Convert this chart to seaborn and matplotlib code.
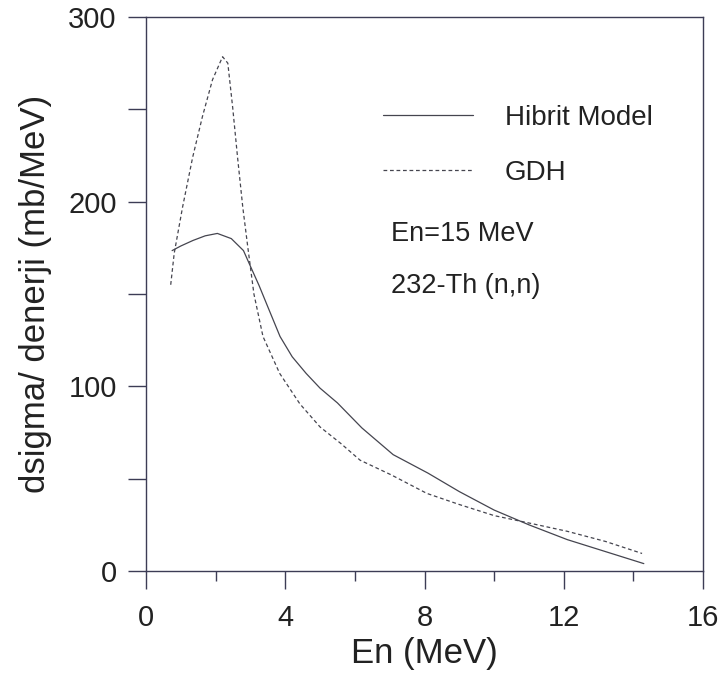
import matplotlib
matplotlib.use("Agg")
import matplotlib.pyplot as plt
import seaborn as sns
import pandas as pd
from matplotlib.ticker import MultipleLocator

# Data
hibrit_E = [0.75, 1.0, 1.35, 1.7, 2.05, 2.45, 2.8, 3.0, 3.25, 3.5, 3.85, 4.2, 4.6,
            5.0, 5.5, 6.2, 7.1, 8.1, 9.0, 10.0, 11.0, 12.1, 13.2, 14.3]
hibrit_y = [173.5, 176, 179, 181.5, 182.8, 180, 173.5, 165, 154.5, 143, 127, 116, 107,
            99, 91, 77.5, 63, 53, 43, 33, 25, 17, 10.5, 4]
gdh_E = [0.71, 0.81, 1.05, 1.34, 1.62, 1.91, 2.2, 2.35, 2.49, 2.63, 2.78, 2.92, 3.1,
         3.36, 3.84, 4.42, 5.0, 5.6, 6.15, 7.05, 8.07, 9.0, 10.0, 11.0, 12.1, 13.2, 14.25]
gdh_y = [155, 172, 197, 224, 246, 266, 278.5, 275, 251, 224, 197, 176, 150,
         127, 107, 90.5, 78, 69, 60, 52, 42, 36, 30, 26, 21.5, 16, 9.5]
series_names = ["Hibrit Model", "GDH"]

df = pd.concat([
    pd.DataFrame({"En": hibrit_E, "val": hibrit_y, "model": series_names[0]}),
    pd.DataFrame({"En": gdh_E, "val": gdh_y, "model": series_names[1]}),
], ignore_index=True)

sns.set_style("ticks")
plt.rcParams["font.family"] = ["Liberation Sans", "DejaVu Sans"]

line_color = "#45454f"
spine_color = "#3c3c55"

fig = plt.figure(figsize=(7.19, 6.75), dpi=100)
ax = fig.add_axes([146 / 719, 104 / 675, 557 / 719, 554 / 675])

sns.lineplot(data=df, x="En", y="val", hue="model", style="model",
             palette={series_names[0]: line_color, series_names[1]: line_color},
             dashes={series_names[0]: "", series_names[1]: (3, 2.2)},
             linewidth=0.9, ax=ax, sort=False, estimator=None)

ax.set_xlim(0, 16)
ax.set_ylim(0, 300)
ax.xaxis.set_major_locator(MultipleLocator(4))
ax.xaxis.set_minor_locator(MultipleLocator(2))
ax.yaxis.set_major_locator(MultipleLocator(100))
ax.yaxis.set_minor_locator(MultipleLocator(50))
ax.tick_params(axis="both", which="major", direction="out", length=13, width=1,
               color=spine_color, labelsize=21, labelcolor="#222222")
ax.tick_params(axis="x", which="major", pad=11)
ax.tick_params(axis="y", which="major", pad=8)
ax.tick_params(axis="x", which="minor", direction="out", length=7, width=1, color=spine_color)
ax.tick_params(axis="y", which="minor", direction="out", length=13, width=1, color=spine_color)
for s in ax.spines.values():
    s.set_visible(True)
    s.set_color(spine_color)
    s.set_linewidth(1.0)

ax.set_xlabel("En (MeV)", fontsize=25, color="#222222", labelpad=3)
ax.set_ylabel("dsigma/ denerji (mb/MeV)", fontsize=25, color="#222222", labelpad=12)

sns.move_legend(ax, loc="upper left", bbox_to_anchor=(0.405, 0.862), frameon=False,
                title=None, fontsize=20, handlelength=3.25, handletextpad=1.15,
                labelspacing=1.05, borderaxespad=0)
for t in ax.get_legend().get_texts():
    t.set_color("#222222")

ax.text(0.44, 0.609, "En=15 MeV", transform=ax.transAxes, fontsize=19.5,
        color="#222222", va="center", ha="left")
ax.text(0.44, 0.514, "232-Th (n,n)", transform=ax.transAxes, fontsize=19.5,
        color="#222222", va="center", ha="left")

fig.savefig("out.png", dpi=100)
